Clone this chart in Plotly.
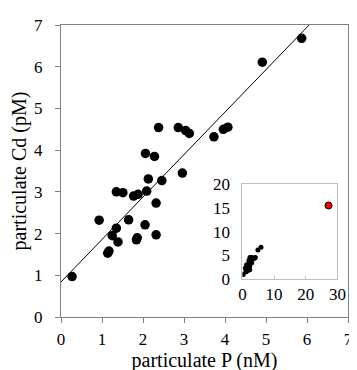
import plotly.graph_objects as go

# particulate P (nM) and particulate Cd (pM)
p_nM = [0.27, 0.93, 1.14, 1.17, 1.25, 1.35, 1.39, 1.35, 1.51, 1.65, 1.77, 1.88,
        1.86, 1.84, 2.06, 2.09, 2.13, 2.05, 2.28, 2.38, 2.32, 2.32, 2.46, 2.86,
        2.96, 3.04, 3.13, 3.73, 3.96, 4.07, 4.91, 5.87]
cd_pM = [0.97, 2.32, 1.53, 1.58, 1.95, 2.13, 1.80, 3.00, 2.98, 2.33, 2.90, 2.94,
         1.90, 1.85, 3.92, 3.02, 3.31, 2.21, 3.85, 4.54, 2.73, 1.97, 3.27, 4.54,
         3.45, 4.47, 4.40, 4.32, 4.50, 4.55, 6.11, 6.68]

# outlier shown only in the inset
outlier_p = [27.2]
outlier_cd = [15.5]

# regression line parameters
fit_slope = 1.018
fit_intercept = 0.84
fit_x = [0, 7]
fit_y = [fit_intercept + fit_slope * v for v in fit_x]

main_ticks = [0, 1, 2, 3, 4, 5, 6, 7]
inset_xticks = [0, 10, 20, 30]
inset_yticks = [0, 5, 10, 15, 20]

FONT = "Liberation Serif"
TICKFONT = dict(family=FONT, size=17, color="black")

fig = go.Figure()
fig.add_trace(go.Scatter(x=fit_x, y=fit_y, mode="lines",
                         line=dict(color="black", width=1), showlegend=False,
                         xaxis="x", yaxis="y"))
fig.add_trace(go.Scatter(x=p_nM, y=cd_pM, mode="markers",
                         marker=dict(color="black", size=9.5), showlegend=False,
                         xaxis="x", yaxis="y", cliponaxis=False))
fig.add_trace(go.Scatter(x=p_nM, y=cd_pM, mode="markers",
                         marker=dict(color="black", size=5), showlegend=False,
                         xaxis="x2", yaxis="y2"))
fig.add_trace(go.Scatter(x=outlier_p, y=outlier_cd, mode="markers",
                         marker=dict(color="red", size=7, line=dict(color="black", width=1)),
                         showlegend=False, xaxis="x2", yaxis="y2"))

fig.update_layout(
    width=357, height=370,
    margin=dict(l=50, r=8, t=10, b=61),
    paper_bgcolor="white", plot_bgcolor="white",
    font=dict(family=FONT, size=17, color="black"),
    xaxis=dict(domain=[0, 1], range=[0, 7], tickvals=main_ticks,
               showgrid=False, zeroline=False,
               showline=True, linecolor="#808080", linewidth=1, mirror=True,
               ticks="outside", ticklen=5, tickcolor="#808080",
               ticklabelstandoff=2,
               title=dict(text="particulate P (nM)", font=dict(family=FONT, size=20), standoff=2),
               tickfont=TICKFONT),
    yaxis=dict(domain=[0, 1], range=[0, 7], tickvals=main_ticks,
               showgrid=False, zeroline=False,
               showline=True, linecolor="#808080", linewidth=1, mirror=True,
               ticks="outside", ticklen=5, tickcolor="#808080",
               ticklabelstandoff=9,
               title=dict(text="particulate Cd (pM)", font=dict(family=FONT, size=20), standoff=4),
               tickfont=TICKFONT),
    xaxis2=dict(domain=[0.632, 0.963], range=[0, 30], tickvals=inset_xticks,
                anchor="y2", showgrid=False, zeroline=False,
                showline=True, linecolor="#c0c0c0", linewidth=1, mirror=True,
                ticks="inside", ticklen=3, tickcolor="#c0c0c0",
                tickfont=TICKFONT),
    yaxis2=dict(domain=[0.130, 0.455], range=[0, 20], tickvals=inset_yticks,
                anchor="x2", showgrid=False, zeroline=False,
                showline=True, linecolor="#c0c0c0", linewidth=1, mirror=True,
                ticks="", ticklabelstandoff=8, tickfont=TICKFONT),
)

fig.write_html("out.html")
